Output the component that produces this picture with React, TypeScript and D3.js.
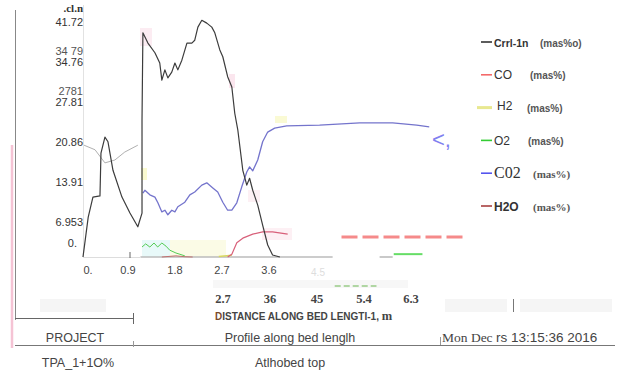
import { useEffect, useRef } from "react";
import * as d3 from "d3";

// ticks
const yTicks = [41.72, 34.76, 27.81, 20.86, 13.91, 6.953, 0];
const yTickLabels = ["41.72", "34.76", "27.81", "20.86", "13.91", "6.953", "0."];
const ghostTicks = [34.79, 27.81];
const ghostLabels = ["34 79", "2781"];
const xTicks = [0, 0.9, 1.8, 2.7, 3.6];
const xTickLabels = ["0.", "0.9", "1.8", "2.7", "3.6"];
const xTicks2 = [2.7, 3.6, 4.5, 5.4, 6.3];
const xTickLabels2 = ["2.7", "36", "45", "5.4", "6.3"];

// series: [distance m, value mas%]
const crrl: [number, number][] = [
  [0, 0], [0.1, 7.0], [0.19, 10.5], [0.325, 10.7], [0.344, 18.2], [0.42, 21.0],
  [0.478, 20.2], [0.574, 15.2], [0.746, 10.5], [0.899, 7.7], [1.05, 5.3],
  [1.13, 7.7], [1.13, 24.0], [1.147, 39.3], [1.243, 37.5], [1.377, 35.8],
  [1.47, 34.0], [1.51, 31.0], [1.568, 32.8], [1.625, 31.4], [1.7, 32.4],
  [1.76, 34.0], [1.816, 32.8], [1.893, 34.5], [1.99, 37.5], [2.084, 37.5],
  [2.14, 38.0], [2.2, 40.3], [2.275, 41.5], [2.37, 41.0], [2.466, 40.3],
  [2.524, 39.3], [2.62, 36.3], [2.677, 35.1], [2.77, 31.6], [2.85, 29.8],
  [2.906, 25.2], [2.964, 22.3], [3.06, 15.2], [3.136, 12.6], [3.19, 13.8],
  [3.25, 11.7], [3.346, 9.1], [3.44, 5.6], [3.537, 2.1], [3.63, 0.35], [3.77, 0],
];
const ghost: [number, number][] = [
  [0.02, 19.6], [0.23, 18.8], [0.42, 16.5], [0.61, 17.0], [0.8, 18.4], [1.05, 19.6],
];
const co2: [number, number][] = [
  [1.147, 11.2], [1.185, 11.7], [1.28, 10.9], [1.377, 10.5], [1.434, 9.5],
  [1.51, 7.9], [1.568, 8.2], [1.625, 7.4], [1.7, 8.2], [1.76, 7.9], [1.816, 8.8],
  [1.95, 9.6], [2.046, 10.9], [2.14, 11.4], [2.275, 12.6], [2.37, 13.0],
  [2.486, 12.1], [2.58, 11.4], [2.677, 9.6], [2.77, 8.2], [2.85, 8.2],
  [2.945, 9.5], [3.04, 12.3], [3.136, 14.9], [3.19, 15.8], [3.25, 15.1],
  [3.346, 17.0], [3.44, 20.2], [3.537, 21.9], [3.67, 22.6], [3.9, 23.0],
  [4.53, 23.1], [5.3, 23.5], [5.93, 23.5], [6.39, 23.1], [6.63, 22.8],
];
const co: [number, number][] = [
  [2.77, 0], [2.85, 0.5], [2.945, 2.5], [3.06, 3.3], [3.25, 4.0], [3.44, 4.4],
  [3.63, 4.4], [3.92, 4.0],
];
const coTail: [number, number][] = [[4.95, 3.5], [7.36, 3.5]];
const o2: [number, number][] = [
  [1.13, 1.75], [1.2, 2.3], [1.28, 1.75], [1.36, 2.45], [1.43, 1.75],
  [1.51, 2.45], [1.59, 1.9], [1.66, 1.2], [1.78, 0.7], [1.95, 0.2],
];
const o2Tail: [number, number][] = [[5.95, 0.5], [6.5, 0.5]];
const o2Stray: [number, number][] = [[4.82, -5.1], [5.62, -5.1]];
const h2o: [number, number][] = [[1.51, 0], [1.78, 0.2], [1.95, 0.05], [2.1, 0]];
const h2: [number, number][] = [[2.6, 0.1], [2.85, 0.3]];
const baseline: [number, number][] = [[1.1, 0], [4.78, 0]];
const baseline2: [number, number][] = [[5.68, 0], [5.93, 0]];

const legendNames = ["Crrl-1n", "CO", "H2", "O2", "C02", "H2O"];
const legendUnits = ["(mas%o)", "(mas%)", "(mas%)", "(mas%)", "(mas%)", "(mas%)"];
const legendColors = ["#333", "#f46a6a", "#e8e890", "#33cc33", "#5555ee", "#a84040"];

const SANS = "Liberation Sans, Arial, sans-serif";
const SERIF = "Liberation Serif, Times New Roman, serif";

const App = () => {
  const svgRef = useRef<SVGSVGElement | null>(null);

  useEffect(() => {
    const svg = d3.select(svgRef.current);
    svg.selectAll("*").remove();

    const x = d3.scaleLinear().domain([0, 3.6]).range([83, 271]);
    const y = d3.scaleLinear().domain([0, 41.72]).range([257, 19]);
    const yLab = d3.scaleLinear().domain([6.953, 41.72]).range([222, 22]);

    // faint artefact patches
    const patches = [
      [40, 299, 66, 13, "#f5f5f5"], [445, 299, 62, 13, "#f5f5f5"],
      [520, 299, 92, 13, "#f5f5f5"], [213, 280, 195, 8, "#f7f7f7"],
      [140, 28, 12, 18, "#fcecf2"], [229, 74, 6, 14, "#fbe6ee"],
      [141, 168, 6, 12, "#fafad0"], [142, 240, 28, 17, "#e8f9f9"],
      [170, 240, 56, 17, "#fbfbe6"], [262, 228, 30, 12, "#fdf0f4"],
      [275, 116, 12, 7, "#fafad4"], [248, 190, 12, 12, "#fdf0f4"],
    ] as const;
    svg.selectAll("rect.patch").data(patches).enter().append("rect")
      .attr("x", (d) => d[0]).attr("y", (d) => d[1])
      .attr("width", (d) => d[2]).attr("height", (d) => d[3])
      .attr("fill", (d) => d[4]);

    // frame lines
    svg.append("line").attr("x1", 12).attr("x2", 12).attr("y1", 145).attr("y2", 348)
      .attr("stroke", "#f5c3d4").attr("stroke-width", 2.5);
    svg.append("line").attr("x1", 15.5).attr("x2", 15.5).attr("y1", 10).attr("y2", 320)
      .attr("stroke", "#888");
    svg.append("line").attr("x1", 83.5).attr("x2", 83.5).attr("y1", 5).attr("y2", 257)
      .attr("stroke", "#e2e2e2");
    svg.append("line").attr("x1", 83).attr("x2", 140).attr("y1", 257.5).attr("y2", 257.5)
      .attr("stroke", "#ddd");
    svg.append("line").attr("x1", x(0.9)).attr("x2", x(0.9)).attr("y1", 252).attr("y2", 258)
      .attr("stroke", "#666");
    svg.append("line").attr("x1", 15).attr("x2", 133).attr("y1", 318.5).attr("y2", 318.5)
      .attr("stroke", "#666");
    svg.append("line").attr("x1", 133.5).attr("x2", 133.5).attr("y1", 313).attr("y2", 324)
      .attr("stroke", "#666");
    svg.append("line").attr("x1", 15).attr("x2", 615).attr("y1", 345.5).attr("y2", 345.5)
      .attr("stroke", "#777");
    svg.append("line").attr("x1", 133.5).attr("x2", 133.5).attr("y1", 341).attr("y2", 347)
      .attr("stroke", "#999");
    svg.append("line").attr("x1", 440.5).attr("x2", 440.5).attr("y1", 337).attr("y2", 345)
      .attr("stroke", "#999");
    svg.append("line").attr("x1", 513.5).attr("x2", 513.5).attr("y1", 299).attr("y2", 312)
      .attr("stroke", "#777");

    // y labels
    svg.append("text").attr("x", 83).attr("y", 12).attr("text-anchor", "end")
      .attr("font-family", SERIF).attr("font-weight", "bold").attr("font-size", 11)
      .attr("fill", "#333").text(".cl.n");
    svg.selectAll("text.ytick").data(yTicks).enter().append("text")
      .attr("x", (d) => (d === 0 ? 77 : 83))
      .attr("y", (d) => (d === 0 ? y(0) - 14 : yLab(d)) + 4)
      .attr("text-anchor", "end").attr("font-family", SANS).attr("font-size", 11)
      .attr("fill", "#333").text((d, i) => yTickLabels[i]);
    svg.selectAll("text.ghost").data(ghostTicks).enter().append("text")
      .attr("x", 83).attr("y", (d) => yLab(d) - 11 + 4)
      .attr("text-anchor", "end").attr("font-family", SANS).attr("font-size", 11)
      .attr("fill", "#555").text((d, i) => ghostLabels[i]);

    // x labels
    svg.selectAll("text.xtick").data(xTicks).enter().append("text")
      .attr("x", (d) => (d === 0 ? x(d) + 5 : x(d) - 2)).attr("y", 274)
      .attr("text-anchor", "middle").attr("font-family", SANS).attr("font-size", 11)
      .attr("fill", "#444").text((d, i) => xTickLabels[i]);
    svg.append("text").attr("x", x(4.5)).attr("y", 276).attr("text-anchor", "middle")
      .attr("font-family", SANS).attr("font-size", 10).attr("fill", "#ddd").text("4.5");
    svg.selectAll("text.xtick2").data(xTicks2).enter().append("text")
      .attr("x", (d) => x(d) - 1).attr("y", 303)
      .attr("text-anchor", "middle").attr("font-family", SERIF).attr("font-weight", "bold")
      .attr("font-size", 12.5).attr("fill", "#444").text((d, i) => xTickLabels2[i]);
    const title = svg.append("text").attr("x", 215).attr("y", 320)
      .attr("font-family", SANS).attr("font-weight", "bold").attr("font-size", 10)
      .attr("fill", "#444");
    title.append("tspan").attr("fill", "#7a4a2a").text("D");
    title.append("tspan").text("ISTANCE ALONG BED LENGTI-1, ");
    title.append("tspan").attr("font-family", SERIF).attr("font-size", 12.5).text("m");

    // curves
    const line = d3.line<[number, number]>().x((d) => x(d[0])).y((d) => y(d[1]));
    const draw = (d: [number, number][], color: string, w: number, dash?: string) => {
      const p = svg.append("path").attr("d", line(d)).attr("fill", "none")
        .attr("stroke", color).attr("stroke-width", w).attr("stroke-linejoin", "round");
      if (dash) p.attr("stroke-dasharray", dash);
    };
    draw(baseline, "#bbb", 1.6);
    draw(baseline2, "#bbb", 1.6);
    draw(ghost, "#b0b0b0", 1);
    draw(h2o, "#c07070", 1);
    draw(h2, "#d8d860", 1.5);
    draw(o2, "#55cc55", 1);
    draw(o2Tail, "#66dd66", 2);
    draw(o2Stray, "#99cc88", 1.5, "6,3");
    draw(co, "#d8607a", 1.2);
    draw(coTail, "#f58a8a", 3, "16,5");
    draw(co2, "#7474cc", 1.3);
    draw(crrl, "#3c3c3c", 1.2);

    svg.append("text").attr("x", 432).attr("y", 147).attr("font-family", SANS)
      .attr("font-size", 22).attr("fill", "#8080f0").text("<,");

    // legend
    const lg = svg.selectAll("g.leg").data(legendNames).enter().append("g")
      .attr("transform", (d, i) => `translate(0,${42 + i * 32.8})`);
    lg.append("line").attr("x1", (d, i) => (i === 2 ? 477 : 481)).attr("x2", 492)
      .attr("stroke", (d, i) => legendColors[i])
      .attr("stroke-width", (d, i) => (i === 2 ? 3 : 1.6));
    lg.append("text").attr("x", (d, i) => (i === 2 ? 497 : 494))
      .attr("y", (d, i) => (i === 2 ? 2 : 4.5))
      .attr("font-family", (d, i) => (i === 4 ? SERIF : SANS))
      .attr("font-weight", (d, i) => (i === 0 || i === 5 ? "bold" : "normal"))
      .attr("font-size", (d, i) => (i === 4 ? 16 : i === 0 ? 10.5 : 12))
      .attr("fill", "#333").text((d) => d);
    lg.append("text").attr("x", (d, i) => [540, 530, 527, 528, 533, 533][i])
      .attr("y", 4.5)
      .attr("font-family", (d, i) => (i >= 4 ? SERIF : SANS)).attr("font-weight", "bold")
      .attr("font-size", (d, i) => (i >= 4 ? 11 : 10)).attr("fill", "#555")
      .text((d, i) => legendUnits[i]);

    // footer
    const foot = [
      [75, 342, "middle", "PROJECT"],
      [290, 342, "middle", "Profile along bed lenglh"],
      [78, 367, "middle", "TPA_1+1O%"],
      [290, 367, "middle", "Atlhobed top"],
    ] as const;
    svg.selectAll("text.foot").data(foot).enter().append("text")
      .attr("x", (d) => d[0]).attr("y", (d) => d[1]).attr("text-anchor", (d) => d[2])
      .attr("font-family", SANS).attr("font-size", 12.5).attr("fill", "#444")
      .text((d) => d[3]);
    const date = svg.append("text").attr("x", 442).attr("y", 342)
      .attr("font-size", 13.5).attr("fill", "#444");
    date.append("tspan").attr("font-family", SERIF).text("Mon Dec ");
    date.append("tspan").attr("font-family", SANS).text("rs 13:15:36 2016");
  }, []);

  return (
    <svg
      ref={svgRef}
      width={621}
      height={374}
      style={{ position: "absolute", left: 0, top: 0, background: "#fff" }}
    ></svg>
  );
};

export default App;
